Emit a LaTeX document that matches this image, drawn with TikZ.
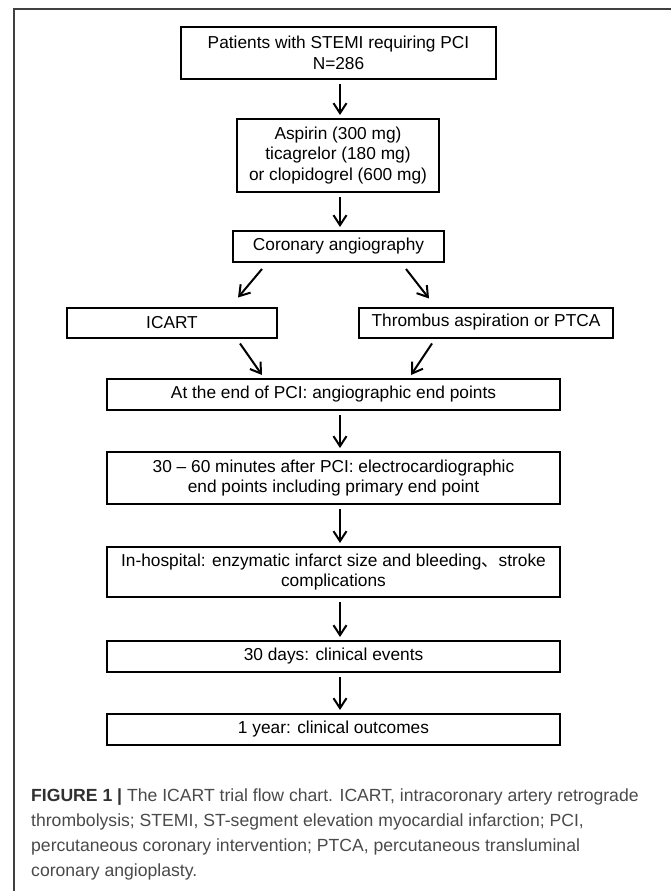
\documentclass[tikz,border=0pt]{standalone}
\usepackage{fontspec}
\setmainfont{Liberation Sans}
\newfontfamily\cjk{Noto Sans CJK SC}
\usetikzlibrary{arrows.meta,calc}
\definecolor{framegray}{HTML}{404040}
\definecolor{capgray}{HTML}{4A4A4A}
\definecolor{capbold}{HTML}{303030}
\begin{document}
\begin{tikzpicture}[x=1pt,y=-1pt,
  box/.style={draw=black, line width=2pt, inner sep=0pt, align=center,
    font=\fontsize{17.3}{20.7}\selectfont},
  arr/.style={line width=2pt, -{Straight Barb[length=10pt,width=13pt]}},
  varr/.style={arr, shorten <=4pt, shorten >=3pt},
  captext/.style={anchor=base west, inner sep=0pt, text=capgray,
    font=\fontsize{17.6}{25}\selectfont}]
\useasboundingbox (0,0) rectangle (671,891);
\fill[white] (0,0) rectangle (671,891);
% frame
\draw[framegray, line width=2pt] (14,891) -- (14,9) -- (671,9);
\coordinate (ax) at (340,0);
% boxes
\node[box, minimum width=315pt, minimum height=52pt] (b1) at (338.5,53)
  {Patients with STEMI requiring PCI\\N=286};
\node[box, minimum width=202pt, minimum height=73pt] (b2) at (338,155.5)
  {Aspirin (300 mg)\\ticagrelor (180 mg)\\or clopidogrel (600 mg)};
\node[box, minimum width=211pt, minimum height=31pt] (b3) at (338.5,246.5)
  {Coronary angiography};
\node[box, minimum width=210pt, minimum height=30pt] (bl) at (172,322.5)
  {ICART};
\node[box, minimum width=254pt, minimum height=30pt] (br) at (486,322.5)
  {Thrombus aspiration or PTCA};
\node[box, minimum width=453pt, minimum height=31pt] (b4) at (333.5,394.5)
  {At the end of PCI: angiographic end points};
\node[box, minimum width=453pt, minimum height=52pt] (b5) at (333.5,478)
  {30 -- 60 minutes after PCI: electrocardiographic\\end points including primary end point};
\node[box, minimum width=453pt, minimum height=50pt] (b6) at (333.5,572)
  {In-hospital: enzymatic infarct size and bleeding{\cjk 、}stroke\\complications};
\node[box, minimum width=453pt, minimum height=31pt] (b7) at (333.5,656.5)
  {30 days: clinical events};
\node[box, minimum width=453pt, minimum height=31pt] (b8) at (333.5,729.5)
  {1 year: clinical outcomes};
% arrows
\draw[varr] (b1.south -| ax) -- (b2.north -| ax);
\draw[varr] (b2.south -| ax) -- (b3.north -| ax);
\draw[arr] ($(b3.south west)+(30,6)$) -- ($(bl.north west)+(172,-9)$);
\draw[arr] ($(b3.south east)+(-39,6)$) -- ($(br.north west)+(71,-8)$);
\draw[arr] ($(bl.south east)+(-38,5)$) -- ($(b4.north west)+(156,-3)$);
\draw[arr] ($(br.south west)+(74,5)$) -- ($(b4.north east)+(-150,-3)$);
\draw[varr] (b4.south -| ax) -- (b5.north -| ax);
\draw[varr] (b5.south -| ax) -- (b6.north -| ax);
\draw[varr] (b6.south -| ax) -- (b7.north -| ax);
\draw[varr] (b7.south -| ax) -- (b8.north -| ax);
% caption
\node[captext] (c1) at (31,801) {\textcolor{capbold}{\textbf{FIGURE 1 |}} The ICART trial flow chart. ICART, intracoronary artery retrograde};
\node[captext] (c2) at (31,826) {thrombolysis; STEMI, ST-segment elevation myocardial infarction; PCI,};
\node[captext] (c3) at (31,851) {percutaneous coronary intervention; PTCA, percutaneous transluminal};
\node[captext] (c4) at (31,876) {coronary angioplasty.};
\end{tikzpicture}
\end{document}
